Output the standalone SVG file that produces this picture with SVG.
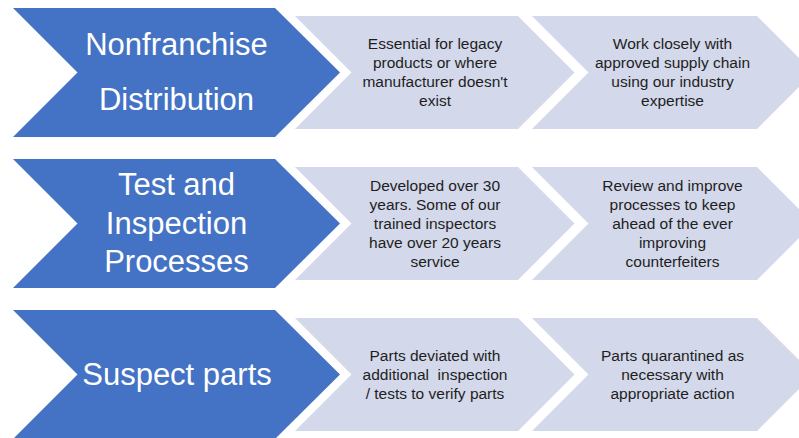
<svg xmlns="http://www.w3.org/2000/svg" width="799" height="438" viewBox="0 0 799 438">
<style>
.blue{fill:#4472C4}
.gray{fill:#D3D8EA}
.bt{font-family:"Liberation Sans",Arial,sans-serif;font-size:31px;fill:#FFFFFF;text-anchor:middle}
.gt{font-family:"Liberation Sans",Arial,sans-serif;font-size:15.5px;fill:#1E1E1E;text-anchor:middle;white-space:pre}
</style>
<rect x="0" y="0" width="799" height="438" fill="#FFFFFF"/>
<g id="connectors"></g>
<g id="row1">
<g id="n1"><polygon class="blue" points="13,8 275,8 340,72.5 275,137 13,137 77.5,72.5"/>
<text class="bt" x="176.5" y="55">Nonfranchise</text>
<text class="bt" x="176.5" y="110">Distribution</text></g>
<g id="n1a"><polygon class="gray" points="295,16 518,16 574.5,72.5 518,129 295,129 351.5,72.5"/>
<text class="gt"><tspan x="435" y="49">Essential for legacy</tspan><tspan x="435" y="68">products or where</tspan><tspan x="435" y="87">manufacturer doesn't</tspan><tspan x="435" y="106">exist</tspan></text></g>
<g id="n1b"><polygon class="gray" points="532,16 757,16 813.5,72.5 757,129 532,129 588.5,72.5"/>
<text class="gt"><tspan x="672.5" y="49">Work closely with</tspan><tspan x="672.5" y="68">approved supply chain</tspan><tspan x="672.5" y="87">using our industry</tspan><tspan x="672.5" y="106">expertise</tspan></text></g>
</g>
<g id="row2">
<g id="n2"><polygon class="blue" points="13,159 275,159 340,223.5 275,288 13,288 77.5,223.5"/>
<text class="bt" x="176.5" y="195">Test and</text>
<text class="bt" x="176.5" y="233.5">Inspection</text>
<text class="bt" x="176.5" y="272">Processes</text></g>
<g id="n2a"><polygon class="gray" points="295,167 518,167 574.5,223.5 518,280 295,280 351.5,223.5"/>
<text class="gt"><tspan x="435" y="190.5">Developed over 30</tspan><tspan x="435" y="209.5">years. Some of our</tspan><tspan x="435" y="228.5">trained inspectors</tspan><tspan x="435" y="247.5">have over 20 years</tspan><tspan x="435" y="266.5">service</tspan></text></g>
<g id="n2b"><polygon class="gray" points="532,167 757,167 813.5,223.5 757,280 532,280 588.5,223.5"/>
<text class="gt"><tspan x="672.5" y="190.5">Review and improve</tspan><tspan x="672.5" y="209.5">processes to keep</tspan><tspan x="672.5" y="228.5">ahead of the ever</tspan><tspan x="672.5" y="247.5">improving</tspan><tspan x="672.5" y="266.5">counterfeiters</tspan></text></g>
</g>
<g id="row3">
<g id="n3"><polygon class="blue" points="13,310 275,310 340,374.5 275,439 13,439 77.5,374.5"/>
<text class="bt" x="177" y="385">Suspect parts</text></g>
<g id="n3a"><polygon class="gray" points="295,318 518,318 574.5,374.5 518,431 295,431 351.5,374.5"/>
<text class="gt"><tspan x="435" y="360.5">Parts deviated with</tspan><tspan x="435" y="379.5">additional  inspection</tspan><tspan x="435" y="398.5">/ tests to verify parts</tspan></text></g>
<g id="n3b"><polygon class="gray" points="532,318 757,318 813.5,374.5 757,431 532,431 588.5,374.5"/>
<text class="gt"><tspan x="672.5" y="360.5">Parts quarantined as</tspan><tspan x="672.5" y="379.5">necessary with</tspan><tspan x="672.5" y="398.5">appropriate action</tspan></text></g>
</g>
</svg>
